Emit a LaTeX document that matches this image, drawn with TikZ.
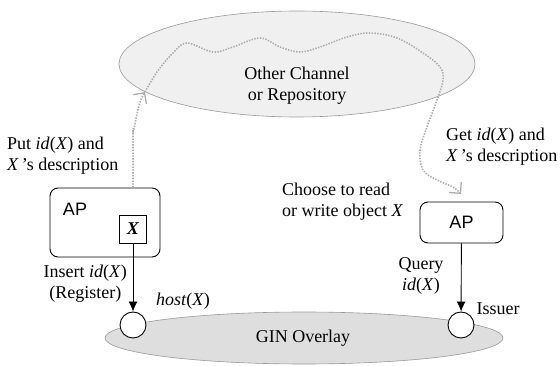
\documentclass[tikz,border=0pt]{standalone}
\usepackage{fontspec}
\setmainfont{Liberation Serif}
\newfontfamily\apfont{Liberation Sans}
\usetikzlibrary{arrows.meta,positioning,shapes.geometric,calc}

\begin{document}
\begin{tikzpicture}[
    x=1pt, y=-1pt,
    font=\fontsize{18}{21}\selectfont,
    region/.style={draw=gray!80, ellipse, inner sep=0pt, line width=0.6pt},
    apbox/.style={draw, rounded corners=8pt, line width=0.9pt, font=\fontsize{18}{20}\selectfont\apfont},
    objbox/.style={draw, line width=0.9pt, minimum width=27pt, minimum height=28pt, inner sep=0pt,
                   font=\fontsize{18}{20}\selectfont\bfseries\itshape},
    peer/.style={draw, circle, minimum size=26pt, inner sep=0pt, line width=0.9pt, fill=white},
    arrow/.style={-{Latex[length=10pt, width=9pt]}, line width=0.9pt},
    darrow/.style={-{Straight Barb[length=8pt, width=16pt, line width=1.3pt]}, draw=gray!65,
                   dash pattern=on 1.4pt off 1.4pt, line width=1.6pt},
    note/.style={align=left, inner sep=0pt},
]
\useasboundingbox (0,0) rectangle (560,366);

% ── Regions ──
\node[region, fill=gray!12, minimum width=356pt, minimum height=106pt] (cloud) at (297,64) {};
\node[align=center, inner sep=0pt] (cloudtxt) at (297,86) {Other Channel\\or Repository};
\node[region, fill=gray!26, minimum width=398pt, minimum height=52pt] (gin) at (304,338) {};
\node[inner sep=0pt] (gintxt) at (303,338) {GIN Overlay};

% ── Access points ──
\node[apbox, minimum width=110pt, minimum height=69pt] (apl) at (105,222.5) {};
\node[font=\fontsize{18}{20}\selectfont\apfont, inner sep=0pt] (apltxt) at (75,209) {AP};
\node[objbox] (obj) at (133,229) {X};
\node[apbox, minimum width=83pt, minimum height=41pt] (apr) at (461.5,222.5) {AP};

% ── Overlay peers ──
\node[peer] (host) at (133,325) {};
\node[peer] (issuer) at (461,325) {};

% ── Arrows ──
\draw[arrow] (obj) -- (host);
\draw[arrow] (apr) -- (issuer);
\coordinate (tipl) at (145,92);
\coordinate (tipr) at (461,194);
\draw[darrow] (obj |- apl.north) -- (133,128) to[out=-90, in=235] (tipl);
\draw[darrow] plot[smooth, tension=0.6] coordinates {(tipl) (157,72) (173,53) (187,43) (213,52)
    (233,47) (260,38) (280,47) (300,52) (320,47) (347,37) (370,33) (397,38) (423,53) (440,67)
    (443,80) (437,100) (427,127) (420,150) (423,170) (437,180) (453,187) (tipr)};

% ── Labels ──
\node[note, anchor=west] (put) at (7,156) {Put \textit{id}(\textit{X}) and\\\textit{X}\,'s description};
\node[note, anchor=west] (get) at (446,147) {Get \textit{id}(\textit{X}) and\\\textit{X}\,'s description};
\node[note, anchor=west] (choose) at (282,202) {Choose to read\\or write object \textit{X}};
\node[align=center, inner sep=0pt, anchor=east] (insert) at (127,284) {Insert \textit{id}(\textit{X})\\(Register)};
\node[inner sep=0pt] (hostlbl) at (183,301) {\textit{host}(\textit{X})};
\node[align=center, inner sep=0pt] (query) at (421,276) {Query\\\textit{id}(\textit{X})};
\node[inner sep=0pt] (issuerlbl) at (498,309) {Issuer};

\end{tikzpicture}
\end{document}
